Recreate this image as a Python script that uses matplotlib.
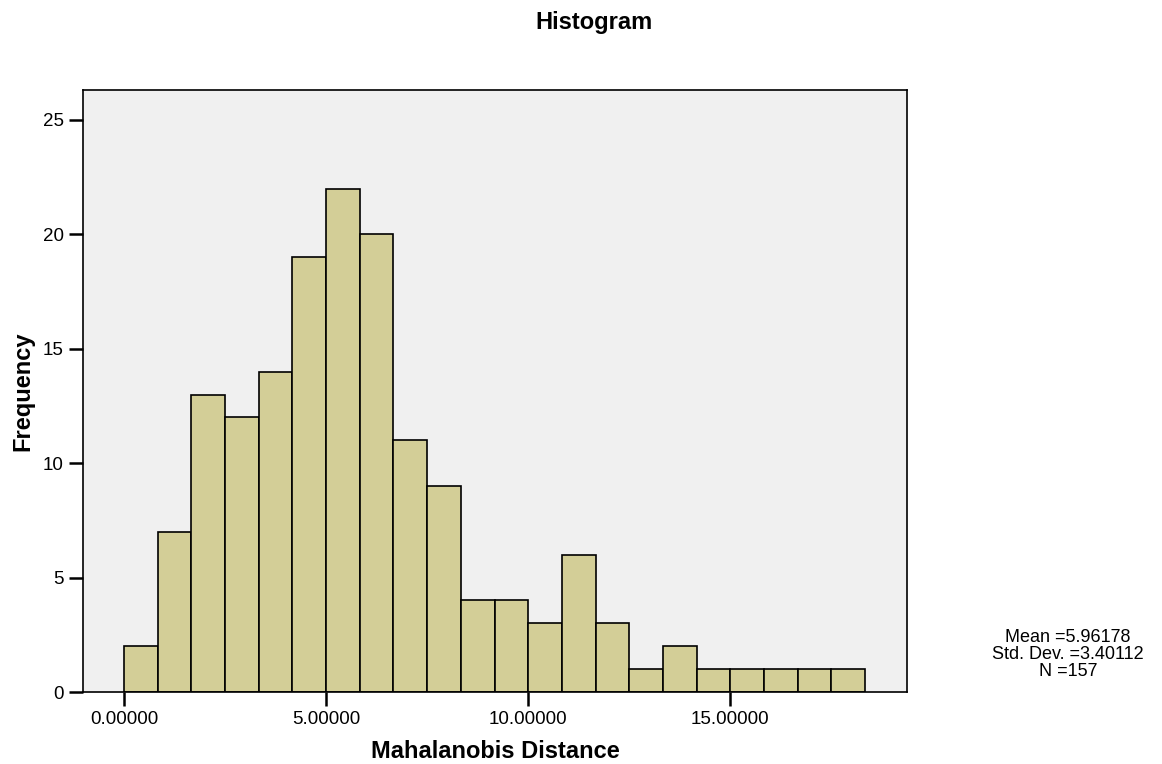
import matplotlib
matplotlib.use("Agg")
import matplotlib.pyplot as plt
import numpy as np

plt.rcParams['font.family'] = ['Liberation Sans', 'DejaVu Sans']

# histogram counts
counts = [2, 7, 13, 12, 14, 19, 22, 20, 11, 9, 4, 4, 3, 6, 3, 1, 2, 1, 1, 1, 1, 1]
binWidth = 0.8337
edges = np.arange(len(counts) + 1) * binWidth
xTicks = [0, 5, 10, 15]
yTicks = [0, 5, 10, 15, 20, 25]
stats = "Mean =5.96178\nStd. Dev. =3.40112\nN =157"

fig = plt.figure(figsize=(11.62, 7.64), dpi=100)
ax = fig.add_axes([0.0714, 0.0942, 0.7092, 0.7878])
ax.set_facecolor("#f0f0f0")

ax.bar(edges[:-1], counts, width=binWidth, align="edge",
       color="#d3ce97", edgecolor="black", linewidth=1.2, zorder=2)

ax.set_xlim(-1.015, 19.38)
ax.set_ylim(0, 26.3)
ax.set_xticks(xTicks)
ax.set_xticklabels(["%.5f" % t for t in xTicks], fontsize=13.5)
ax.set_yticks(yTicks)
ax.set_yticklabels([str(t) for t in yTicks], fontsize=13.5)
ax.tick_params(direction="out", length=10, width=1.8, pad=4)
for s in ax.spines.values():
	s.set_linewidth(1.2)

ax.set_xlabel("Mahalanobis Distance", fontsize=17, fontweight="bold", labelpad=8)
ax.set_ylabel("Frequency", fontsize=17, fontweight="bold", labelpad=6)
fig.text(0.511, 0.985, "Histogram", ha="center", va="top", fontsize=17, fontweight="bold")
fig.text(0.919, 0.143, stats, ha="center", va="center", fontsize=13, linespacing=1.0)

plt.savefig("out.png", dpi=100)
